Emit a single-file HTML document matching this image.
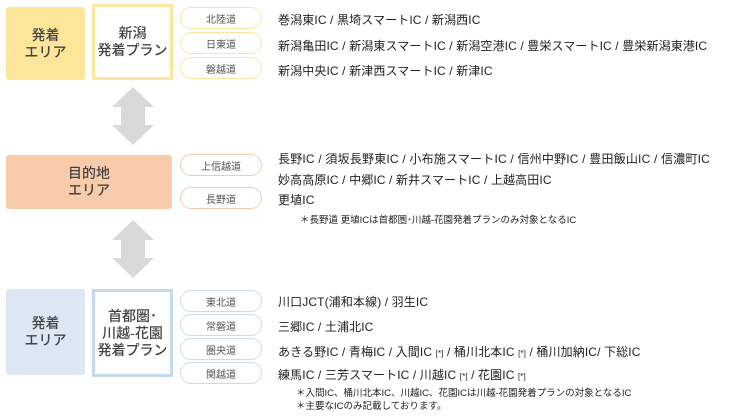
<!DOCTYPE html>
<html><head><meta charset="utf-8"><style>
*{margin:0;padding:0;box-sizing:border-box}
body{width:730px;height:416px;background:#fff;position:relative;overflow:hidden;font-family:"Liberation Sans","Noto Sans CJK JP",sans-serif;color:#333}
.a{position:absolute}
.box{position:absolute;display:flex;align-items:center;justify-content:center;text-align:center;font-size:14px;line-height:17px;border-radius:3px;color:#444;font-weight:500}
.pill{position:absolute;left:180px;width:82px;height:22px;border-radius:11px;display:flex;align-items:center;justify-content:center;font-size:10px;color:#555;background:#fff}
.y{border:1px solid #fbe3a3}.o{border:1px solid #f8c9ab}.b{border:1px solid #c9ddef}
.t{position:absolute;left:278px;font-size:12px;white-space:nowrap;color:#222;letter-spacing:0.12px}
.n{position:absolute;font-size:9.5px;white-space:nowrap;color:#222}
small{font-size:8px}
</style></head><body>
<div class="box" style="left:6px;top:7px;width:79px;height:73px;background:#fde59a">発着<br>エリア</div>
<div class="box" style="left:92px;top:4px;width:81px;height:76px;border:3px solid #fde7a0;border-radius:0;background:#fff">新潟<br>発着プラン</div>
<div class="pill y" style="top:7px">北陸道</div>
<div class="pill y" style="top:32px">日東道</div>
<div class="pill y" style="top:57px">磐越道</div>
<div class="t" style="top:11px">巻潟東IC / 黒埼スマートIC / 新潟西IC</div>
<div class="t" style="top:37px">新潟亀田IC / 新潟東スマートIC / 新潟空港IC / 豊栄スマートIC / 豊栄新潟東港IC</div>
<div class="t" style="top:62px">新潟中央IC / 新津西スマートIC / 新津IC</div>

<svg class="a" style="left:112px;top:87px" width="42" height="58"><polygon points="21,0 42,20 33,20 33,38 42,38 21,58 0,38 9,38 9,20 0,20" fill="#d9d9d9"/></svg>

<div class="box" style="left:6px;top:155px;width:166px;height:54px;background:#f8cbab">目的地<br>エリア</div>
<div class="pill o" style="top:154px">上信越道</div>
<div class="pill o" style="top:187px">長野道</div>
<div class="t" style="top:150px;letter-spacing:0.2px">長野IC / 須坂長野東IC / 小布施スマートIC / 信州中野IC / 豊田飯山IC / 信濃町IC</div>
<div class="t" style="top:171px">妙高高原IC / 中郷IC / 新井スマートIC / 上越高田IC</div>
<div class="t" style="top:191px">更埴IC</div>
<div class="n" style="left:300px;top:212px">＊長野道 更埴ICは首都圏･川越-花園発着プランのみ対象となるIC</div>

<svg class="a" style="left:112px;top:220px" width="42" height="58"><polygon points="21,0 42,20 33,20 33,38 42,38 21,58 0,38 9,38 9,20 0,20" fill="#d9d9d9"/></svg>

<div class="box" style="left:6px;top:289px;width:79px;height:86px;background:#dde8f4">発着<br>エリア</div>
<div class="box" style="left:92px;top:289px;width:81px;height:88px;border:3px solid #c3d9ee;border-radius:0;background:#fff">首都圏･<br>川越-花園<br>発着プラン</div>
<div class="pill b" style="top:290px">東北道</div>
<div class="pill b" style="top:314px">常磐道</div>
<div class="pill b" style="top:338px">圏央道</div>
<div class="pill b" style="top:362px">関越道</div>
<div class="t" style="top:293px">川口JCT(浦和本線) / 羽生IC</div>
<div class="t" style="top:318px">三郷IC / 土浦北IC</div>
<div class="t" style="top:343px">あきる野IC / 青梅IC / 入間IC <small>[*]</small> / 桶川北本IC <small>[*]</small> / 桶川加納IC/ 下総IC</div>
<div class="t" style="top:366px">練馬IC / 三芳スマートIC / 川越IC <small>[*]</small> / 花園IC <small>[*]</small></div>
<div class="n" style="left:296px;top:385px">＊入間IC、桶川北本IC、川越IC、花園ICは川越-花園発着プランの対象となるIC</div>
<div class="n" style="left:296px;top:398px">＊主要なICのみ記載しております。</div>
</body></html>
